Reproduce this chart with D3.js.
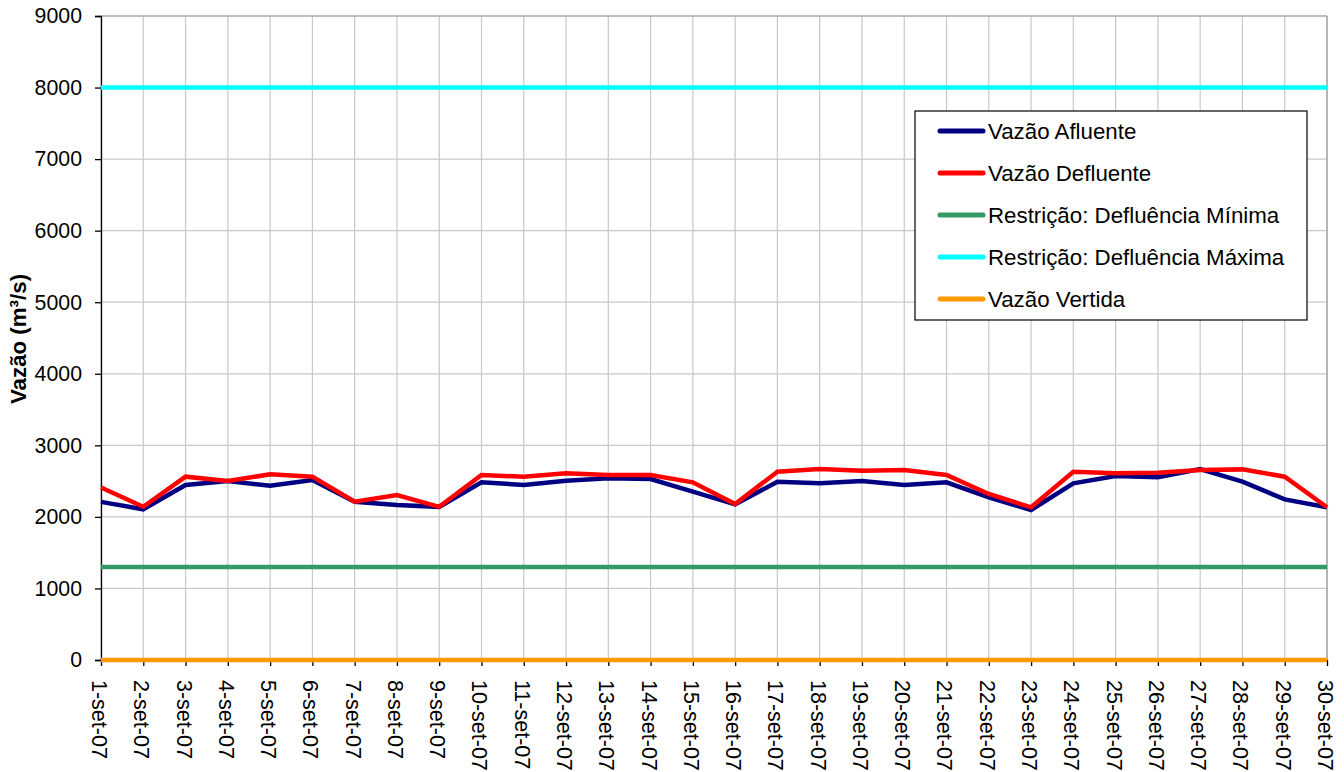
<!DOCTYPE html>
<html><head><meta charset="utf-8">
<script src="https://cdn.jsdelivr.net/npm/d3@7"></script>
<style>body{margin:0;background:#fff;}svg{display:block;font-family:Arial,"Liberation Sans",sans-serif;}</style>
</head><body><svg id="c" width="1344" height="772"></svg>
<script>
const days = d3.range(1, 31).map(d => d + "-set-07");
const afluente = [2210,2106,2446,2501,2436,2515,2212,2166,2140,2483,2446,2506,2539,2529,2352,2175,2492,2469,2501,2446,2483,2273,2096,2469,2571,2553,2669,2492,2245,2134];
const defluente = [2410,2142,2562,2501,2595,2562,2212,2306,2140,2585,2562,2609,2585,2585,2483,2180,2632,2669,2646,2655,2585,2320,2134,2632,2609,2618,2655,2664,2562,2134];
const minima = days.map(() => 1300);
const maxima = days.map(() => 8000);
const vertida = days.map(() => 0);
const yTicks = [0,1000,2000,3000,4000,5000,6000,7000,8000,9000];
const seriesNames = ["Vazão Afluente","Vazão Defluente","Restrição: Defluência Mínima","Restrição: Defluência Máxima","Vazão Vertida"];
const seriesColors = ["#000080","#ff0000","#339966","#00ffff","#ff9900"];
const seriesData = [afluente, defluente, minima, maxima, vertida];

const FONT = "Arial, 'Liberation Sans', sans-serif";
const svg = d3.select("#c");
const L = 101, R = 1327, T = 16, B = 660;
const x = d3.scalePoint().domain(days).range([L, R]);
const y = d3.scaleLinear().domain([0, 9000]).range([B, T]);

// gridlines
svg.append("g").selectAll("line").data(yTicks).join("line")
  .attr("x1", L).attr("x2", R).attr("y1", d => y(d)).attr("y2", d => y(d))
  .attr("stroke", "#c8c8c8").attr("stroke-width", 1.2);
svg.append("g").selectAll("line").data(days).join("line")
  .attr("x1", d => x(d)).attr("x2", d => x(d)).attr("y1", T).attr("y2", B)
  .attr("stroke", "#c8c8c8").attr("stroke-width", 1.2);
svg.append("line").attr("x1", L).attr("x2", R).attr("y1", T).attr("y2", T).attr("stroke", "#999").attr("stroke-width", 1.2);
svg.append("line").attr("x1", R).attr("x2", R).attr("y1", T).attr("y2", B).attr("stroke", "#999").attr("stroke-width", 1.2);

// axes
const yAxis = d3.axisLeft(y).tickValues(yTicks).tickSize(6).tickPadding(13).tickFormat(d3.format("d"));
const gy = svg.append("g").attr("transform", `translate(${L},0)`).call(yAxis);
gy.attr("font-size", null).attr("font-family", null);
gy.selectAll("text").attr("font-size", 21.3).attr("font-family", FONT).attr("fill", "#000");
gy.selectAll("line,path").attr("stroke", "#000").attr("stroke-width", 1.3);

const xAxis = d3.axisBottom(x).tickSize(6).tickPadding(0);
const gx = svg.append("g").attr("transform", `translate(0,${B})`).call(xAxis);
gx.attr("font-size", null).attr("font-family", null);
gx.select("path").attr("d", `M${L},0H${R}`);
gx.selectAll("line,path").attr("stroke", "#000").attr("stroke-width", 1.3);
gx.selectAll("text").attr("font-size", 21.5).attr("font-family", FONT).attr("fill", "#000")
  .attr("transform", "translate(-2,20) rotate(90)").attr("text-anchor", "start").attr("dy", "0.35em").attr("x", 0).attr("y", 0);

// y title
svg.append("text").attr("transform", `translate(26,339) rotate(-90)`).attr("text-anchor", "middle")
  .attr("font-size", 22.3).attr("font-weight", "bold").attr("font-family", FONT).text("Vazão (m³/s)");

// lines (draw restrictions first, then data)
const line = d3.line().x((d, i) => x(days[i])).y(d => y(d));
const order = [2, 3, 4, 0, 1];
order.forEach(i => {
  svg.append("path").datum(seriesData[i]).attr("d", line).attr("fill", "none")
    .attr("stroke", seriesColors[i]).attr("stroke-width", 4.5).attr("stroke-linejoin", "miter");
});

// legend
const lg = svg.append("g").attr("transform", "translate(915,111)");
lg.append("rect").attr("width", 392).attr("height", 209).attr("fill", "#fff").attr("stroke", "#000").attr("stroke-width", 1.2);
seriesNames.forEach((n, i) => {
  const yy = 20 + i * 42;
  lg.append("line").attr("x1", 25).attr("x2", 68).attr("y1", yy).attr("y2", yy)
    .attr("stroke", seriesColors[i]).attr("stroke-width", 5).attr("stroke-linecap", "round");
  lg.append("text").attr("x", 73).attr("y", yy).attr("dy", "0.35em").attr("font-size", 22.3).attr("font-family", FONT).text(n);
});
</script></body></html>
